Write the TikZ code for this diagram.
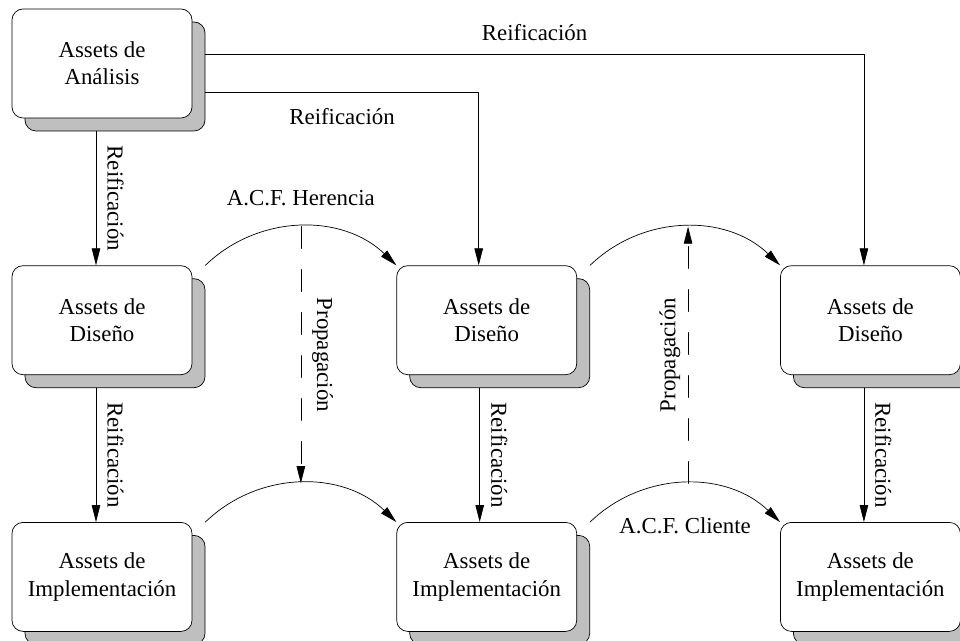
\documentclass[tikz,border=0pt]{standalone}
\usepackage{fontspec}
\setmainfont{Liberation Serif}
\usetikzlibrary{arrows.meta}
\usetikzlibrary{positioning}
\usetikzlibrary{shadows}

\begin{document}
\begin{tikzpicture}[line cap=round,line join=round,>={Triangle[length=0.34cm,width=0.17cm]},x=1cm,y=1cm,
  asset/.style={draw,rounded corners=0.22cm,fill=white,minimum width=3.6cm,minimum height=2.18cm,align=center,
    font=\fontsize{13}{15.5}\selectfont,
    drop shadow={shadow xshift=0.26cm,shadow yshift=-0.26cm,fill=black!25,draw=black,opacity=1}},
  etiqueta/.style={font=\fontsize{13}{15.5}\selectfont},
  discontinua/.style={dash pattern=on 0.44cm off 0.42cm}]
\clip(0,0) rectangle (19.2,12.82);
\node[asset] (ana) at (2.04,11.55) {Assets de\\Análisis};
\node[asset,below=2.94cm of ana] (dis1) {Assets de\\Diseño};
\node[asset,below=2.94cm of dis1] (imp1) {Assets de\\Implementación};
\node[asset,right=4.08cm of dis1] (dis2) {Assets de\\Diseño};
\node[asset,right=4.08cm of imp1] (imp2) {Assets de\\Implementación};
\node[asset,right=4.06cm of dis2] (dis3) {Assets de\\Diseño};
\node[asset,right=4.06cm of imp2] (imp3) {Assets de\\Implementación};
% reificacion
\draw [->] ([xshift=-0.12cm,yshift=-0.26cm]ana.south) -- node[etiqueta,midway,anchor=south,rotate=-90,inner sep=0.22cm] {Reificación} ([xshift=-0.12cm]dis1.north);
\draw [->] ([xshift=-0.12cm,yshift=-0.26cm]dis1.south) -- node[etiqueta,midway,anchor=south,rotate=-90,inner sep=0.22cm] {Reificación} ([xshift=-0.12cm]imp1.north);
\draw [->] ([xshift=-0.14cm,yshift=-0.26cm]dis2.south) -- node[etiqueta,midway,anchor=south,rotate=-90,inner sep=0.22cm] {Reificación} ([xshift=-0.14cm]imp2.north);
\draw [->] ([xshift=-0.13cm,yshift=-0.26cm]dis3.south) -- node[etiqueta,midway,anchor=south,rotate=-90,inner sep=0.22cm] {Reificación} ([xshift=-0.13cm]imp3.north);
\draw [->] ([xshift=0.26cm,yshift=-0.57cm]ana.east) -| node[etiqueta,pos=0.25,yshift=-0.5cm] {Reificación} ([xshift=-0.16cm]dis2.north);
\draw [->] ([xshift=0.26cm,yshift=0.19cm]ana.east) -| node[etiqueta,pos=0.25,yshift=0.42cm] {Reificación} ([xshift=-0.13cm]dis3.north);
% A.C.F.
\draw [->] ([xshift=0.26cm]dis1.north east) to[bend left=44] coordinate[pos=0.5] (herL) node[etiqueta,pos=0.5,yshift=0.56cm] {A.C.F. Herencia} (dis2.north west);
\draw [->] ([xshift=0.26cm]dis2.north east) to[bend left=44] coordinate[pos=0.5] (herR) (dis3.north west);
\draw [->] ([xshift=0.26cm]imp1.north east) to[bend left=44] coordinate[pos=0.5] (cliL) (imp2.north west);
\draw [->] ([xshift=0.26cm]imp2.north east) to[bend left=44] coordinate[pos=0.5] (cliR) node[etiqueta,pos=0.5,yshift=-0.84cm] {A.C.F. Cliente} (imp3.north west);
% propagacion
\draw [->,discontinua] (herL) -- node[etiqueta,midway,anchor=south,rotate=-90,inner sep=0.22cm] {Propagación} (herL |- cliL);
\draw [->,discontinua] ([xshift=0.06cm]herR |- cliR) -- node[etiqueta,midway,anchor=south,rotate=90,inner sep=0.15cm] {Propagación} ([xshift=0.06cm]herR);
\end{tikzpicture}
\end{document}
